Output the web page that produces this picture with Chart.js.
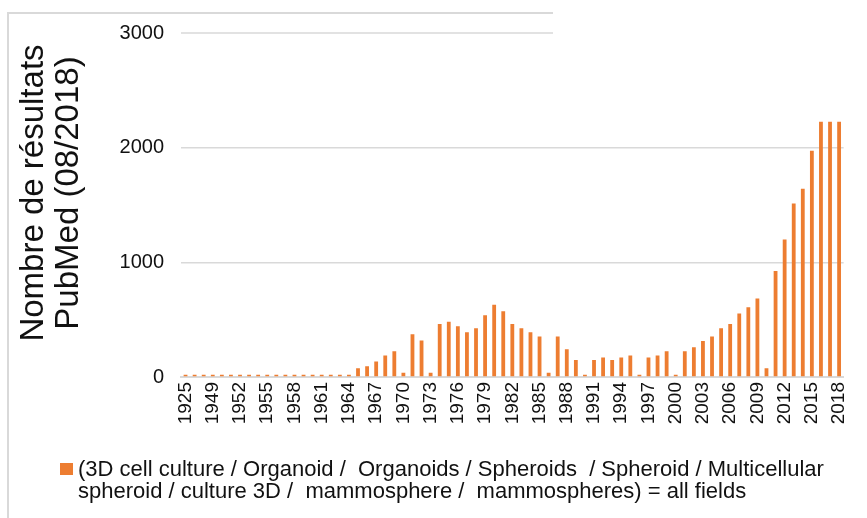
<!DOCTYPE html>
<html>
<head>
<meta charset="utf-8">
<script src="https://cdn.jsdelivr.net/npm/chart.js@4"></script>
<style>
  body { margin: 0; background: #fff; }
  #wrap { position: relative; width: 867px; height: 518px; }
  #legend { position: absolute; left: 60px; top: 458px; display: flex; align-items: flex-start;
            font-family: "Liberation Sans", Arial, sans-serif;
            font-size: 22px; line-height: 22px; color: #111; }
  #legend .box { width: 13px; height: 12px; background: #ED7D31; margin-top: 5px; margin-right: 5px; flex: none; }
  #legend .txt { white-space: pre; }
</style>
</head>
<body>
<div id="wrap">
  <canvas id="pubChart" width="867" height="518"></canvas>
  <div id="legend"><span class="box"></span><span class="txt">(3D cell culture / Organoid /  Organoids / Spheroids  / Spheroid / Multicellular
spheroid / culture 3D /  mammosphere /  mammospheres) = all fields</span></div>
</div>
<script>
var years = ['1925','1947','1948','1949','1950','1951','1952','1953','1954','1955','1956','1957','1958','1959','1960',
  '1961','1962','1963','1964','1965','1966','1967','1968','1969','1970','1971','1972','1973','1974','1975','1976',
  '1977','1978','1979','1980','1981','1982','1983','1984','1985','1986','1987','1988','1989','1990','1991','1992',
  '1993','1994','1995','1996','1997','1998','1999','2000','2001','2002','2003','2004','2005','2006','2007','2008',
  '2009','2010','2011','2012','2013','2014','2015','2016','2017','2018'];

var results = [20,20,20,20,20,20,20,20,20,20,20,20,20,20,20,
  20,20,20,20,76,94,135,187,225,38,373,318,38,463,481,443,
  391,426,539,629,574,463,426,391,353,38,353,242,149,20,149,170,
  149,170,187,20,170,187,225,20,225,260,315,353,426,463,554,609,
  685,76,924,1200,1512,1641,1973,2226,2226,2226];

var yTicks = [0, 1000, 2000, 3000];
var yTitle = ['Nombre de résultats', 'PubMed (08/2018)'];

// outer frame and the short top gridline, plus the rotated axis title
var decorations = {
  id: 'decorations',
  afterDraw: function(chart) {
    var ctx = chart.ctx;
    var y3000 = chart.scales.y.getPixelForValue(3000);
    ctx.save();
    ctx.strokeStyle = '#d9d9d9';
    ctx.lineWidth = 2;
    ctx.beginPath();
    ctx.moveTo(8, 518); ctx.lineTo(8, 13); ctx.lineTo(553, 13);
    ctx.stroke();
    ctx.lineWidth = 1.6;
    ctx.beginPath();
    ctx.moveTo(chart.chartArea.left, y3000); ctx.lineTo(553, y3000);
    ctx.stroke();

    ctx.fillStyle = '#111';
    ctx.font = '33px "Liberation Sans", Arial, sans-serif';
    ctx.textAlign = 'center';
    ctx.textBaseline = 'alphabetic';
    var baseX = [43, 78];
    for (var i = 0; i < yTitle.length; i++) {
      ctx.save();
      ctx.translate(baseX[i], 193);
      ctx.rotate(-Math.PI / 2);
      ctx.fillText(yTitle[i], 0, 0);
      ctx.restore();
    }
    ctx.restore();
  }
};

new Chart(document.getElementById('pubChart'), {
  type: 'bar',
  data: {
    labels: years,
    datasets: [{
      label: 'results',
      data: results,
      backgroundColor: '#ED7D31',
      barPercentage: 0.42,
      categoryPercentage: 1.0
    }]
  },
  options: {
    responsive: false,
    animation: false,
    layout: { padding: { left: 0, right: 14, top: 33, bottom: 0 } },
    plugins: { legend: { display: false }, tooltip: { enabled: false } },
    scales: {
      x: {
        grid: { display: false, drawTicks: false },
        border: { display: true, color: '#d9d9d9', width: 2 },
        ticks: {
          autoSkip: false,
          minRotation: 90,
          maxRotation: 90,
          padding: 5,
          color: '#111',
          font: { family: '"Liberation Sans", Arial, sans-serif', size: 19 },
          callback: function(v, i) { return i % 3 === 0 ? years[i] : ''; }
        },
        afterFit: function(scale) { scale.height = 141; }
      },
      y: {
        min: 0,
        max: 3000,
        afterBuildTicks: function(scale) { scale.ticks = yTicks.map(function(v) { return { value: v }; }); },
        grid: {
          drawTicks: false,
          lineWidth: 1.6,
          color: function(c) { return c.tick && c.tick.value === 3000 ? 'rgba(0,0,0,0)' : '#d9d9d9'; }
        },
        border: { display: false },
        ticks: {
          padding: 17,
          color: '#111',
          font: { family: '"Liberation Sans", Arial, sans-serif', size: 20 },
          callback: function(v) { return String(v); }
        },
        afterFit: function(scale) { scale.width = 181; }
      }
    }
  },
  plugins: [decorations]
});
</script>
</body>
</html>
